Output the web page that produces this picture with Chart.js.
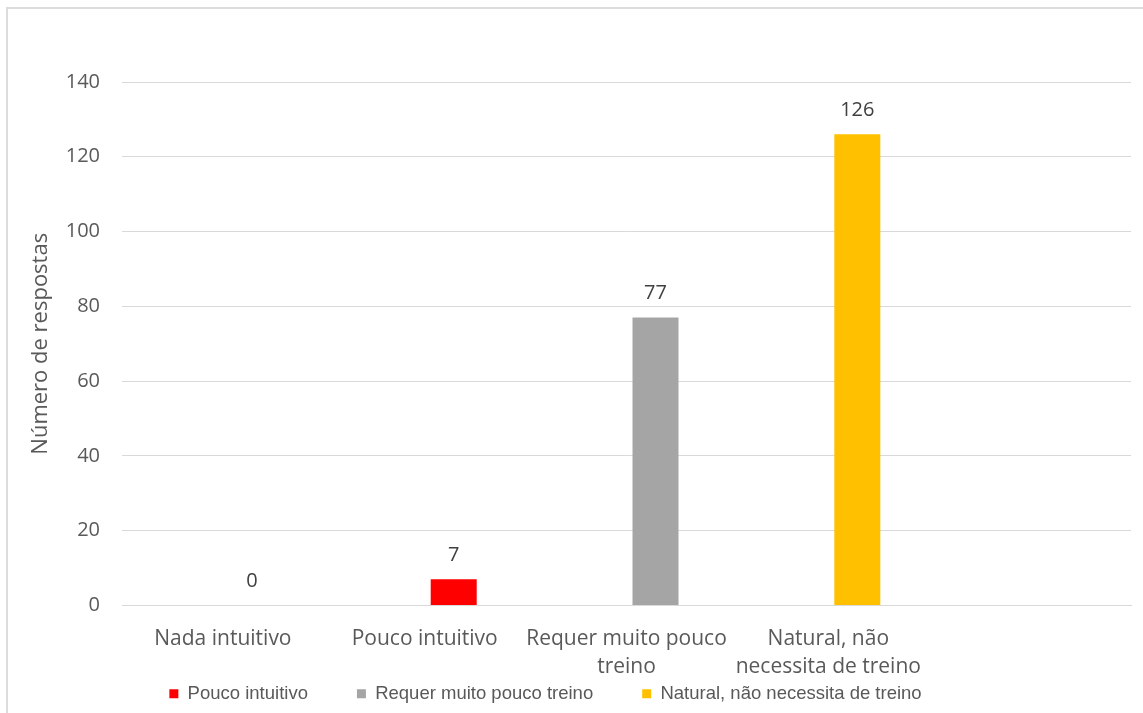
<!DOCTYPE html>
<html>
<head>
<meta charset="utf-8">
<script src="https://cdn.jsdelivr.net/npm/chart.js@4"></script>
<style>
  html, body { margin: 0; padding: 0; background: #fff; }
  #moldura { position: absolute; left: 6px; top: 7px; width: 1200px; height: 800px; border: 2px solid #dcdcdc; box-sizing: border-box; }
  #grafico { position: absolute; left: 0; top: 0; }
</style>
</head>
<body>
<div id="moldura"></div>
<canvas id="grafico" width="1143" height="713"></canvas>
<script>
// categorias e valores
let categorias = [['Nada intuitivo'], ['Pouco intuitivo'], ['Requer muito pouco', 'treino'], ['Natural, não', 'necessita de treino'], ''];
let respostas = [0, 7, 77, 126, null];
let cores = ['#7f7f7f', '#ff0000', '#a5a5a5', '#ffc000', '#ffffff'];
let legenda = ['Pouco intuitivo', 'Requer muito pouco treino', 'Natural, não necessita de treino'];
let coresLegenda = ['#ff0000', '#a5a5a5', '#ffc000'];
let vazio = [null, null, null, null, null];
let yTicks = [0, 20, 40, 60, 80, 100, 120, 140];

const rotulos = {
    id: 'rotulos',
    afterDatasetsDraw(chart) {
        let ctx = chart.ctx;
        let meta = chart.getDatasetMeta(1);
        ctx.save();
        ctx.font = '20px "Open Sans"';
        ctx.fillStyle = '#404040';
        ctx.textAlign = 'center';
        ctx.textBaseline = 'bottom';
        meta.data.forEach((bar, i) => {
            if (respostas[i] === null) return;
            ctx.fillText(respostas[i], bar.x, bar.y - 14);
        });
        ctx.restore();
    }
};

// a legenda fica mais para a esquerda e mais perto dos rótulos, como no original
const moverLegenda = {
    id: 'moverLegenda',
    afterLayout(chart) {
        let lg = chart.legend;
        let h = lg.height;
        lg.left -= 32;
        lg.right -= 32;
        lg.top = chart.chartArea.bottom + 30;
        lg.bottom = lg.top + h;
    }
};

let chartElement = document.querySelector('#grafico').getContext('2d');
new Chart(chartElement, {
    type: 'bar',
    data: {
        labels: categorias,
        datasets: [{
            label: '',
            data: vazio,
            backgroundColor: '#ffffff'
        }, {
            label: 'Número de respostas',
            data: respostas,
            backgroundColor: cores
        }]
    },
    options: {
        responsive: false,
        animation: false,
        categoryPercentage: 0.575,
        barPercentage: 0.793,
        layout: { padding: { left: 24, right: 12, top: 82, bottom: -50 } },
        plugins: {
            tooltip: { enabled: false },
            legend: {
                position: 'bottom',
                labels: {
                    font: { family: '"Liberation Sans Narrow", "Liberation Sans", Arial', size: 18.5 },
                    color: '#595959',
                    boxWidth: 9,
                    boxHeight: 9,
                    padding: 49,
                    generateLabels: () => legenda.map((txt, i) => ({
                        text: txt,
                        fillStyle: coresLegenda[i],
                        strokeStyle: coresLegenda[i],
                        lineWidth: 0,
                        fontColor: '#595959',
                        hidden: false
                    }))
                },
                onClick: () => {}
            }
        },
        scales: {
            x: {
                grid: { display: false, drawTicks: false },
                border: { color: '#d9d9d9', width: 1 },
                ticks: {
                    font: { family: '"Open Sans"', size: 21, lineHeight: 1.33 },
                    color: '#595959',
                    padding: 20,
                    maxRotation: 0,
                    autoSkip: false
                },
                afterFit: (scale) => { scale.height = 80; }
            },
            y: {
                min: 0,
                max: 140,
                afterBuildTicks: (scale) => { scale.ticks = yTicks.map(v => ({ value: v })); },
                grid: { color: '#d9d9d9', drawTicks: false },
                border: { display: false },
                ticks: {
                    font: { family: '"Open Sans"', size: 20 },
                    color: '#595959',
                    padding: 22
                },
                title: {
                    display: true,
                    text: 'Número de respostas',
                    font: { family: '"Open Sans"', size: 22 },
                    color: '#595959',
                    padding: 4
                },
                afterFit: (scale) => { scale.width = 98; }
            }
        }
    },
    plugins: [rotulos, moverLegenda]
});
</script>
</body>
</html>
